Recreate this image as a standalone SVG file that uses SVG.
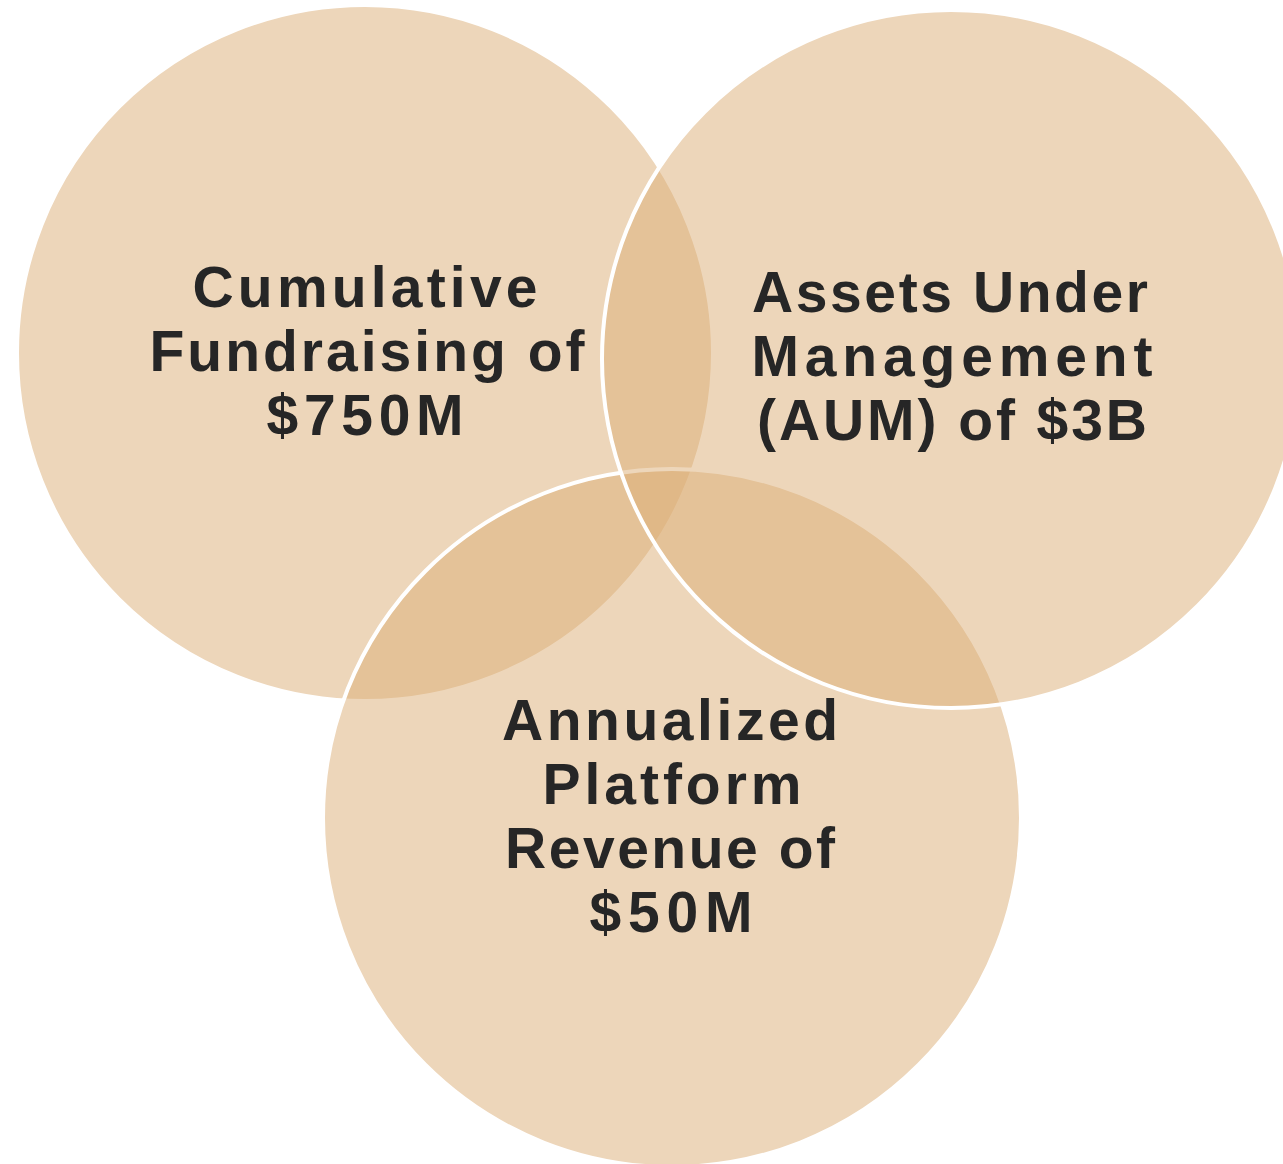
<svg xmlns="http://www.w3.org/2000/svg" width="1283" height="1164" viewBox="0 0 1283 1164">
  <style>
    .c { fill: rgba(219,173,117,0.5); stroke: #ffffff; stroke-width: 4; }
    .t { font-family: "Liberation Sans", Arial, sans-serif; font-weight: 700; font-size: 57px; fill: #262626; text-anchor: middle; }
  </style>
  <rect width="1283" height="1164" fill="#ffffff"/>
  <g id="node-fundraising">
    <circle class="c" cx="365" cy="353" r="348"/>
  </g>
  <g id="node-revenue">
    <circle class="c" cx="672" cy="818" r="349"/>
  </g>
  <g id="node-aum">
    <circle class="c" cx="951" cy="359" r="349"/>
  </g>
  <g id="labels">
    <text class="t" x="365" y="307" textLength="345" lengthAdjust="spacing">Cumulative</text>
    <text class="t" x="367" y="371" textLength="435" lengthAdjust="spacing">Fundraising of</text>
    <text class="t" x="365" y="435" textLength="197" lengthAdjust="spacing">$750M</text>
    <text class="t" x="950" y="312" textLength="396" lengthAdjust="spacing">Assets Under</text>
    <text class="t" x="952" y="376" textLength="401" lengthAdjust="spacing">Management</text>
    <text class="t" x="952" y="440" textLength="390" lengthAdjust="spacing">(AUM) of $3B</text>
    <text class="t" x="670" y="740" textLength="336" lengthAdjust="spacing">Annualized</text>
    <text class="t" x="672" y="804" textLength="259" lengthAdjust="spacing">Platform</text>
    <text class="t" x="670" y="868" textLength="330" lengthAdjust="spacing">Revenue of</text>
    <text class="t" x="671" y="932" textLength="163" lengthAdjust="spacing">$50M</text>
  </g>
  <g id="connectors"></g>
</svg>
